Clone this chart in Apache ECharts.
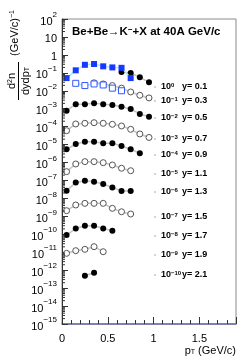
<!DOCTYPE html>
<html><head><meta charset="utf-8">
<script src="https://cdn.jsdelivr.net/npm/echarts@6/dist/echarts.min.js"></script>
<style>html,body{margin:0;padding:0;background:#fff}#c{width:249px;height:361px}</style>
</head><body><div id="c"></div>
<script>
// pT bin centres (GeV/c)
const pT = [0.05, 0.15, 0.25, 0.35, 0.45, 0.55, 0.65, 0.75, 0.85, 0.95];
// displayed (scaled) spectra, one array per rapidity bin / marker set
const y01_blue  = [0.051, 0.138, 0.28, 0.31, 0.23, 0.20, 0.19, 0.051, null, null];
const y01_black = [null, null, null, null, null, null, 0.112, 0.098, 0.056, 0.030];
const y03_blue  = [null, 0.026, 0.0195, 0.024, 0.021, 0.014, 0.010, null, null, null];
const y03_open  = [null, null, null, 0.0277, 0.024, 0.0195, 0.014, 0.0086, 0.0056, 0.0040];
const y05_black = [7.8e-4, 1.8e-3, 1.8e-3, 2.0e-3, 1.8e-3, 1.6e-3, 1.3e-3, 9.6e-4, 5.1e-4, 3.6e-4];
const y07_open  = [5.96e-5, 1.41e-4, 1.54e-4, 1.66e-4, 1.54e-4, 1.35e-4, 1.09e-4, 7.1e-5, 3.9e-5, 2.5e-5];
const y09_black = [5.5e-6, 1.07e-5, 1.45e-5, 1.45e-5, 1.18e-5, 1.18e-5, 8.3e-6, 5.5e-6, 3.3e-6, null];
const y11_open  = [3.1e-7, 8.3e-7, 1.12e-6, 1.12e-6, 9.8e-7, 7.3e-7, 4.8e-7, 3.5e-7, null, null];
const y13_black = [2.7e-8, 7.6e-8, 9.7e-8, 8.5e-8, 6.3e-8, 4.1e-8, 2.6e-8, 2.6e-8, null, null];
const y15_open  = [2.07e-9, 4.3e-9, 5.3e-9, 5.3e-9, 5.3e-9, 2.8e-9, 1.8e-9, 1.35e-9, null, null];
const y17_black = [9.1e-11, 2.1e-10, 3.0e-10, 3.0e-10, 2.1e-10, 1.6e-10, null, null, null, null];
const y19_open  = [8.7e-12, 1.22e-11, 1.45e-11, 2.04e-11, 1.07e-11, null, null, null, null, null];
const y21_black = [null, null, 4.9e-13, 7.2e-13, null, null, null, null, null, null];
// annotation texts
const scaleExp = [0, -1, -2, -3, -4, -5, -6, -7, -8, -9, -10];
const rapidity = ['0.1', '0.3', '0.5', '0.7', '0.9', '1.1', '1.3', '1.5', '1.7', '1.9', '2.1'];
const xTicks = [0, 0.5, 1, 1.5];

const FONT = 'Liberation Sans, Arial, sans-serif';
const chart = echarts.init(document.getElementById('c'), null, {renderer: 'canvas'});
function pairs(v) { return pT.map((x, i) => v[i] == null ? null : [x, v[i]]).filter(d => d); }
const minorVals = [];
for (let k = -15; k < 2; k++) for (let m = 2; m <= 9; m++) minorVals.push(m * Math.pow(10, k));

const GREY = '#c4c4c4', CYAN = '#a8eeff', BLUE = '#1638ff';
function blackS(d) { return {type: 'line', data: pairs(d), symbol: 'circle', symbolSize: 6,
  itemStyle: {color: '#000', borderWidth: 0}, lineStyle: {color: GREY, width: 1.5}, z: 3}; }
function openS(d) { return {type: 'line', data: pairs(d), symbol: 'circle', symbolSize: 6,
  itemStyle: {color: '#fff', borderColor: '#555', borderWidth: 1}, lineStyle: {color: GREY, width: 1.5}, z: 3}; }

const series = [
  blackS(y01_black), openS(y03_open),
  {type: 'line', data: pairs(y01_blue), symbol: 'rect', symbolSize: 6, itemStyle: {color: BLUE, borderWidth: 0},
   lineStyle: {color: CYAN, width: 1.5}, z: 4},
  {type: 'line', data: pairs(y03_blue), symbol: 'rect', symbolSize: 6, itemStyle: {color: '#fff', borderColor: '#3556ff', borderWidth: 1},
   lineStyle: {color: CYAN, width: 1.5}, z: 4},
  blackS(y05_black), openS(y07_open), blackS(y09_black), openS(y11_open), blackS(y13_black),
  openS(y15_open), blackS(y17_black), openS(y19_open), blackS(y21_black),
  {type: 'custom', data: minorVals.map(v => [0, v]), silent: true, z: 5,
   renderItem: (p, api) => { const c = api.coord([0, api.value(1)]);
     return {type: 'line', shape: {x1: c[0], y1: c[1], x2: c[0] + 3, y2: c[1]}, style: {stroke: '#333', lineWidth: 1}}; }}
];

const supMinus = e => (e < 0 ? '\u2212' + Math.abs(e) : String(e));
const graphic = [
  {type: 'text', left: 72, top: 26, style: {text: 'Be+Be\u2192K{s|\u2212}+X at 40A GeV/c', font: 'bold 11.5px ' + FONT, fill: '#000',
    rich: {s: {font: 'bold 8px ' + FONT, verticalAlign: 'top', lineHeight: 8}}}},
  // rotated y-axis title: local x runs upward on screen, local y runs rightward
  {type: 'group', x: 18.5, y: 100, rotation: Math.PI / 2, children: [
    {type: 'line', shape: {x1: 0, y1: 0, x2: 38, y2: 0}, style: {stroke: '#000', lineWidth: 1}},
    {type: 'text', x: 19, y: -6.5, style: {text: 'd{s|2}n', font: '11px ' + FONT, fill: '#000', align: 'center', verticalAlign: 'middle',
      rich: {s: {font: '7px ' + FONT, verticalAlign: 'top', lineHeight: 7}}}},
    {type: 'text', x: 19, y: 7, style: {text: 'dydp{t|T}', font: '11px ' + FONT, fill: '#000', align: 'center', verticalAlign: 'middle',
      rich: {t: {font: '7px ' + FONT, verticalAlign: 'bottom', lineHeight: 7}}}},
    {type: 'text', x: 67, y: -4, style: {text: '(GeV/c){s|\u22121}', font: '11px ' + FONT, fill: '#000', align: 'center', verticalAlign: 'middle',
      rich: {s: {font: '7px ' + FONT, verticalAlign: 'top', lineHeight: 7}}}}
  ]},
  {type: 'text', right: 13, top: 345, style: {text: 'p{t|T} (GeV/c)', font: '11px ' + FONT, fill: '#000',
    rich: {t: {font: '7px ' + FONT, verticalAlign: 'bottom', lineHeight: 7}}}}
];
const rowY = [87, 101, 118, 139, 155, 174, 192, 217, 236, 255, 275];
rowY.forEach((yy, i) => {
  graphic.push({type: 'line', shape: {x1: 154, y1: yy, x2: 156, y2: yy}, style: {stroke: '#aaa', lineWidth: 1}});
  graphic.push({type: 'text', x: 161, y: yy, style: {text: '10{s|' + supMinus(scaleExp[i]) + '}', font: 'bold 9px ' + FONT, fill: '#000', verticalAlign: 'middle',
    rich: {s: {font: 'bold 6px ' + FONT, verticalAlign: 'top', lineHeight: 6}}}});
  graphic.push({type: 'text', x: 182, y: yy, style: {text: 'y= ' + rapidity[i], font: 'bold 9px ' + FONT, fill: '#000', verticalAlign: 'middle'}});
});

chart.setOption({
  animation: false,
  backgroundColor: '#fff',
  grid: {left: 62, right: 13, top: 19, bottom: 37, show: true, borderColor: '#8a8a8a', borderWidth: 1},
  xAxis: {type: 'value', min: 0, max: 1.9, interval: 0.5,
    axisLine: {lineStyle: {color: '#6a6ca6', width: 1.5}},
    axisTick: {inside: true, length: 7, lineStyle: {color: '#333'}},
    minorTick: {show: true, splitNumber: 5, length: 4, lineStyle: {color: '#333'}},
    splitLine: {show: false},
    axisLabel: {margin: 9, fontSize: 11, fontFamily: FONT, color: '#000', showMaxLabel: false,
      formatter: v => (xTicks.some(t => Math.abs(t - v) < 1e-6) ? String(v) : '')}},
  yAxis: {type: 'log', logBase: 10, min: 1e-15, max: 100, interval: 1, splitNumber: 17,
    axisLine: {lineStyle: {color: '#333'}},
    axisTick: {inside: true, length: 6, lineStyle: {color: '#333'}},
    splitLine: {show: false},
    axisLabel: {margin: 5, fontFamily: FONT, color: '#000',
      formatter: v => { const e = Math.round(Math.log10(v)); if (e === 0) return '{b|1}'; if (e === 1) return '{b|10}';
        return '{b|10}{s|' + supMinus(e) + '}'; },
      rich: {b: {fontSize: 11, fontFamily: FONT, lineHeight: 16, verticalAlign: 'bottom'},
             s: {fontSize: 8, fontFamily: FONT, lineHeight: 10, verticalAlign: 'top'}}}},
  series: series,
  graphic: graphic
});
</script></body></html>
